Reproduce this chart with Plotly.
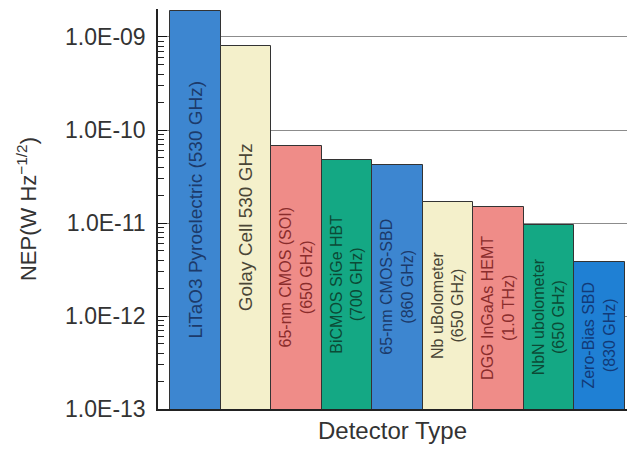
import plotly.graph_objects as go

# Detector categories and their noise-equivalent power (W/Hz^0.5)
detectors = [
    "LiTaO3 Pyroelectric (530 GHz)",
    "Golay Cell 530 GHz",
    "65-nm CMOS (SOI)<br>(650 GHz)",
    "BiCMOS SiGe HBT<br>(700 GHz)",
    "65-nm CMOS-SBD<br>(860 GHz)",
    "Nb uBolometer<br>(650 GHz)",
    "DGG InGaAs HEMT<br>(1.0 THz)",
    "NbN ubolometer<br>(650 GHz)",
    "Zero-Bias SBD<br>(830 GHz)",
]
nep = [1.9e-9, 8.0e-10, 6.7e-11, 4.75e-11, 4.2e-11, 1.68e-11, 1.49e-11, 9.5e-12, 3.8e-12]

tick_vals = [1e-13, 1e-12, 1e-11, 1e-10, 1e-9]
tick_text = ["1.0E-13", "1.0E-12", "1.0E-11", "1.0E-10", "1.0E-09"]
# minor log ticks 2..9 within each decade
minor_vals = [m * d for d in tick_vals[:-1] for m in range(2, 10)]

BLUE, CREAM, PINK, GREEN, BLUE2 = "#3d86d0", "#f4f0cb", "#ef8c88", "#14a884", "#1f80d4"
bar_colors = [BLUE, CREAM, PINK, GREEN, BLUE, CREAM, PINK, GREEN, BLUE2]
text_colors = ["#1c3a6a", "#4a4636", "#8a2c2c", "#0c4a36", "#1c3a6a",
               "#4a4636", "#8a2c2c", "#0c4a36", "#123a78"]
text_sizes = [19, 19, 16, 16, 16, 16, 16, 16, 16]

fig = go.Figure(
    go.Bar(
        x=list(range(len(detectors))),
        y=nep,
        text=detectors,
        textposition="inside",
        insidetextanchor="middle",
        textangle=-90,
        textfont=dict(family="Liberation Sans, Arial, sans-serif",
                      color=text_colors, size=text_sizes),
        marker=dict(color=bar_colors, line=dict(color="#333333", width=1)),
        width=1,
        hoverinfo="skip",
    )
)

fig.update_layout(
    width=631,
    height=454,
    margin=dict(l=158, r=4, t=9, b=45),
    paper_bgcolor="white",
    plot_bgcolor="white",
    showlegend=False,
    bargap=0,
    font=dict(family="Liberation Sans, Arial, sans-serif", color="#333333"),
)

fig.update_xaxes(
    range=[-0.74, 8.54],
    showticklabels=False,
    ticks="",
    showgrid=False,
    zeroline=False,
    showline=True,
    linecolor="#222222",
    linewidth=1.5,
    title=dict(text="Detector Type", font=dict(size=24), standoff=12),
)

fig.update_yaxes(
    type="log",
    range=[-13, -8.699],
    tickvals=tick_vals,
    ticktext=tick_text,
    tickfont=dict(size=23, color="#333333"),
    ticks="inside",
    ticklen=9,
    tickwidth=1.3,
    tickcolor="#111111",
    ticklabelstandoff=6,
    minor=dict(ticks="inside", ticklen=6, tickwidth=1.2, tickcolor="#222222",
               tickvals=minor_vals, showgrid=False),
    showgrid=True,
    gridcolor="#8c8c8c",
    gridwidth=1.2,
    zeroline=False,
    showline=True,
    linecolor="#222222",
    linewidth=1.5,
    title=dict(text="NEP(W Hz<sup>\u22121/2</sup>)", font=dict(size=22), standoff=22),
)

fig.write_html("out.html")
